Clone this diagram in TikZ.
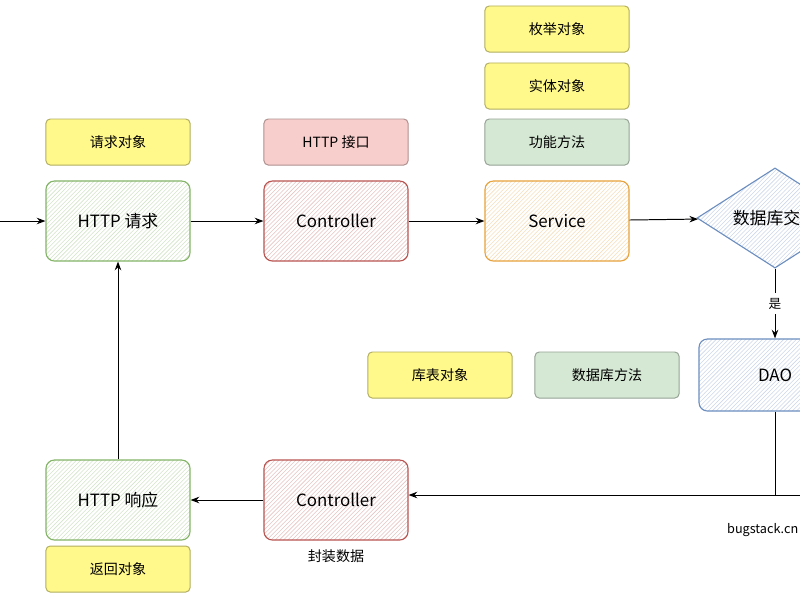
\documentclass[tikz,border=0pt]{standalone}
\usepackage{fontspec}
\setmainfont{Noto Sans CJK SC}
\usetikzlibrary{arrows.meta, positioning, shapes.geometric, patterns}
\definecolor{noteyellow}{HTML}{FFF88A}
\definecolor{notered}{HTML}{F8CECC}
\definecolor{notegreen}{HTML}{D5E8D4}
\definecolor{linered}{HTML}{B85450}
\definecolor{linegreen}{HTML}{82B366}
\definecolor{lineorange}{HTML}{E6A23C}
\definecolor{lineblue}{HTML}{6C8EBF}

\begin{document}
\begin{tikzpicture}[
      x=0.025cm, y=-0.025cm,
      note/.style={draw=#1!70!black, rounded corners=3pt, minimum width=3.6cm, minimum height=1.15cm},
      step/.style={draw=#1, line width=0.8pt, rounded corners=6pt, minimum width=3.6cm, minimum height=2cm,
        font=\large, pattern=north east lines, pattern color=#1!35},
      >=Stealth, line width=0.7pt
    ]
    \clip (0,0) rectangle (800,600);

    % Notes
    \node[note=noteyellow, fill=noteyellow] (reqobj) at (118,142) {请求对象};
    \node[note=notered, fill=notered] (api) at (336,142) {HTTP 接口};
    \node[note=noteyellow, fill=noteyellow] (enumobj) at (557,29) {枚举对象};
    \node[note=noteyellow, fill=noteyellow] (entity) at (557,86) {实体对象};
    \node[note=notegreen, fill=notegreen] (func) at (557,142) {功能方法};
    \node[note=noteyellow, fill=noteyellow] (tableobj) at (440,375) {库表对象};
    \node[note=notegreen, fill=notegreen] (dbfunc) at (607,375) {数据库方法};
    \node[note=noteyellow, fill=noteyellow] (retobj) at (118,569) {返回对象};

    % Steps
    \node[step=linegreen] (request) at (118,221) {HTTP 请求};
    \node[step=linered] (ctrltop) at (336,221) {Controller};
    \node[step=lineorange] (service) at (557,221) {Service};
    \node[diamond, draw=lineblue, line width=0.8pt, inner sep=0pt, minimum width=3.9cm, minimum height=2.4cm,
      font=\large, pattern=north east lines, pattern color=lineblue!35] (db) at (775,218) {数据库交互};
    \node[step=lineblue, minimum width=3.8cm, minimum height=1.8cm] (dao) at (775,375) {DAO};
    \node[step=linered] (ctrlbot) at (336,500) {Controller};
    \node[step=linegreen] (response) at (118,500) {HTTP 响应};
    \node[below=0.1cm of ctrlbot] (wrap) {封装数据};
    \node[anchor=west, font=\small] (site) at (722,530) {bugstack.cn};

    % Arrows
    \coordinate (start) at (0,221);
    \coordinate (turn) at (775,495);
    \coordinate (right) at (800,495);
    \draw[->] (start) -- (request);
    \draw[->] (request) -- (ctrltop);
    \draw[->] (ctrltop) -- (service);
    \draw[->] (service) -- (db);
    \draw[->] (db.south) -- node[fill=white, font=\small] {是} (dao.north);
    \draw (dao.south) -- (turn) -- (right);
    \draw[->] (turn) -- (ctrlbot.east |- turn);
    \draw[->] (ctrlbot) -- (response);
    \draw[->] (response) -- (request);
  \end{tikzpicture}
\end{document}
